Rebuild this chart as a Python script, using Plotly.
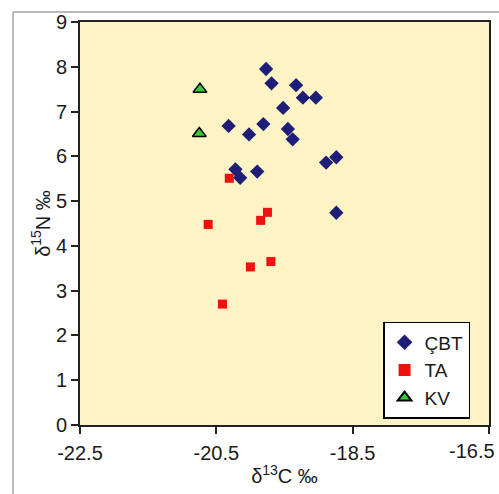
import plotly.graph_objects as go

# Data (δ13C ‰, δ15N ‰)
cbt_x = [-19.77, -19.69, -19.33, -19.23, -19.04, -19.52, -19.81, -20.02, -19.45,
         -19.38, -20.32, -20.22, -20.15, -19.90, -18.89, -18.74, -18.74]
cbt_y = [7.95, 7.63, 7.59, 7.31, 7.31, 7.08, 6.72, 6.49, 6.61,
         6.38, 6.68, 5.71, 5.52, 5.66, 5.86, 5.98, 4.74]
ta_x = [-20.31, -20.62, -19.75, -19.85, -20.00, -19.70, -20.41]
ta_y = [5.51, 4.48, 4.75, 4.57, 3.53, 3.65, 2.70]
kv_x = [-20.74, -20.75]
kv_y = [7.50, 6.51]

x_ticks = [-22.5, -20.5, -18.5, -16.5]
x_ticktext = ["-22.5", "-20.5", "-18.5", ""]
x_last_label = "-16.5"
y_ticks = list(range(0, 10))

fig = go.Figure()
fig.add_trace(go.Scatter(x=cbt_x, y=cbt_y, mode="markers", name="ÇBT",
                         marker=dict(symbol="diamond", size=11, color="#1E1E78",
                                     line=dict(width=0))))
fig.add_trace(go.Scatter(x=ta_x, y=ta_y, mode="markers", name="TA",
                         marker=dict(symbol="square", size=9, color="#F01010",
                                     line=dict(width=0))))
fig.add_trace(go.Scatter(x=kv_x, y=kv_y, mode="markers", name="KV",
                         marker=dict(symbol="triangle-up", size=12, color="#33CC33",
                                     line=dict(width=1.5, color="#000000"))))

font_family = "Liberation Sans, Arial, sans-serif"

fig.update_layout(
    width=499, height=494,
    autosize=False,
    margin=dict(l=80, r=10, t=22, b=69, autoexpand=False),
    paper_bgcolor="white",
    plot_bgcolor="#FDF3C5",
    font=dict(family=font_family, color="#1A1A1A"),
    showlegend=True,
    legend=dict(x=0.741, y=0.256, xanchor="left", yanchor="top",
                bgcolor="white", bordercolor="#000000", borderwidth=1.5,
                font=dict(size=19, family=font_family, color="#1A1A1A"),
                itemsizing="constant", tracegroupgap=0),
    xaxis=dict(range=[-22.5, -16.5], tickvals=x_ticks, ticktext=x_ticktext,
               showgrid=False, zeroline=False, automargin=False,
               showline=True, linecolor="#222222", linewidth=2, mirror=True,
               ticks="outside", ticklen=7, tickwidth=1.5, tickcolor="#222222",
               tickfont=dict(size=20), ticklabelstandoff=2,
               title=dict(text="δ<sup>13</sup>C ‰", font=dict(size=20), standoff=6)),
    yaxis=dict(range=[0, 9], tickvals=y_ticks,
               showgrid=False, zeroline=False, automargin=False,
               ticklabeloverflow="allow",
               showline=True, linecolor="#222222", linewidth=2, mirror=True,
               ticks="outside", ticklen=7, tickwidth=1.5, tickcolor="#222222",
               tickfont=dict(size=20),
               title=dict(text="δ<sup>15</sup>N ‰", font=dict(size=20), standoff=0)),
    annotations=[
        dict(x=x_ticks[-1], xref="x", y=0, yref="paper", text=x_last_label,
             showarrow=False, xanchor="right", yanchor="top", xshift=8, yshift=-13,
             font=dict(size=20, family=font_family, color="#1A1A1A")),
    ],
    shapes=[
        dict(type="line", xref="paper", yref="paper", x0=-67/409, x1=1.03,
             y0=1 + 10/403, y1=1 + 10/403, line=dict(color="#BBBBBB", width=2)),
        dict(type="line", xref="paper", yref="paper", x0=-67/409, x1=-67/409,
             y0=1 + 10/403, y1=-69/403, line=dict(color="#BBBBBB", width=2)),
    ],
)

fig.write_html("out.html", config={"displayModeBar": False},
               post_script="document.body.style.margin='0';document.body.style.overflow='hidden';")
